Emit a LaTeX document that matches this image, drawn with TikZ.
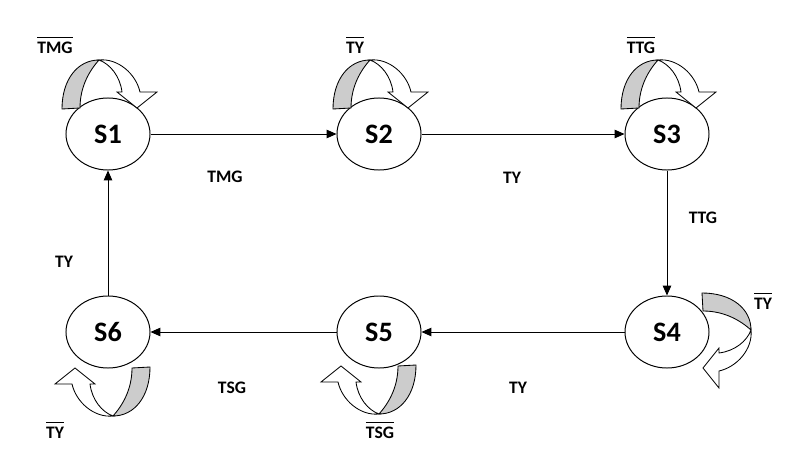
\documentclass[tikz,border=0pt]{standalone}
\usepackage{fontspec}
\setmainfont{Carlito}
\usetikzlibrary{arrows.meta,shapes.geometric}
\newcommand\negated[1]{\vbox{\hrule height 0.6pt\kern 3pt\hbox{#1}}}
\tikzset{state/.style={draw, ellipse, line width=0.7pt, minimum width=2.1cm, minimum height=1.8cm, inner sep=0pt, font=\fontsize{20}{22}\selectfont\bfseries},
  lbl/.style={font=\fontsize{12.5}{14}\selectfont\bfseries, inner sep=1pt},
  edge/.style={line width=0.7pt, -{Triangle[length=7pt,width=6pt]}},
  selfloop/.pic={
    \draw[line width=0.6pt, fill=gray!40] (-46,-25) .. controls (-46,-55) and (-30,-74) .. (-9,-74)
      .. controls (-18,-64) and (-28,-48) .. (-28,-26) -- cycle;
    \draw[line width=0.6pt, fill=white] (-9,-74) .. controls (10,-76) and (28,-60) .. (32,-42) -- (49,-42) -- (29,-26)
      -- (9,-42) -- (14,-42) .. controls (12,-58) and (2,-70) .. (-9,-74) -- cycle;
  }}

\begin{document}
\begin{tikzpicture}[x=0.025cm, y=-0.025cm]
  \useasboundingbox (0,0) rectangle (810,467);
  \node[state] (s1) at (108,134) {S1};
  \node[state] (s2) at (379,134) {S2};
  \node[state] (s3) at (667,134) {S3};
  \node[state] (s4) at (667,332) {S4};
  \node[state] (s5) at (379,332) {S5};
  \node[state] (s6) at (108,332) {S6};
  \draw[edge] (s1) -- (s2);
  \draw[edge] (s2) -- (s3);
  \draw[edge] (s3) -- (s4);
  \draw[edge] (s4) -- (s5);
  \draw[edge] (s5) -- (s6);
  \draw[edge] (s6) -- (s1);
  \node[lbl] (l12) at (225,177) {TMG};
  \node[lbl] (l23) at (512,178) {TY};
  \node[lbl] (l34) at (703,218) {TTG};
  \node[lbl] (l45) at (518,388) {TY};
  \node[lbl] (l56) at (232,388) {TSG};
  \node[lbl] (l61) at (64,262) {TY};
  % self loops
  \pic at (s1) {selfloop};
  \pic at (s2) {selfloop};
  \pic at (s3) {selfloop};
  \pic[rotate=-90] at ([shift={(10,7)}]s4.center) {selfloop};
  \pic[rotate=180] at ([shift={(-9,8)}]s5.center) {selfloop};
  \pic[rotate=180] at ([shift={(-4,10)}]s6.center) {selfloop};
  \node[lbl] (n1) at (55,45) {\negated{TMG}};
  \node[lbl] (n2) at (355,45) {\negated{TY}};
  \node[lbl] (n3) at (641,45) {\negated{TTG}};
  \node[lbl] (n4) at (763,301) {\negated{TY}};
  \node[lbl] (n5) at (380,430) {\negated{TSG}};
  \node[lbl] (n6) at (55,430) {\negated{TY}};
\end{tikzpicture}
\end{document}
